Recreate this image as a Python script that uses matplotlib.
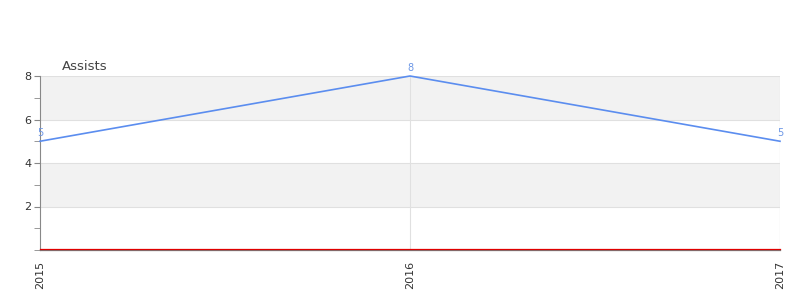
import matplotlib
matplotlib.use("Agg")
import matplotlib.pyplot as plt
from matplotlib.ticker import FixedLocator

years = ["2015", "2016", "2017"]
assists = [5, 8, 5]
baseline = [0, 0, 0]
title = "Assists"

fig = plt.figure(figsize=(8, 3), dpi=100)
ax = fig.add_axes([40/800, 1 - 250/300, 740/800, 174/300])

x = list(range(len(years)))
ax.set_xlim(0, len(years) - 1)
ax.set_ylim(0, 8)

# alternating bands
for lo, hi in [(2, 4), (6, 8)]:
    ax.axhspan(lo, hi, color="#f2f2f2", zorder=0, lw=0)
for yv in [2, 4, 6, 8]:
    ax.axhline(yv, color="#e0e0e0", lw=0.8, zorder=1)
for xv in x[1:]:
    ax.axvline(xv, color="#e0e0e0", lw=0.8, zorder=1)

ax.plot(x, baseline, color="#e00000", lw=0.9, zorder=3, clip_on=False,
        transform=ax.transData + matplotlib.transforms.ScaledTranslation(0, 1/100, fig.dpi_scale_trans))
ax.plot(x, assists, color="#5b8def", lw=1.2, zorder=4, clip_on=False)
for xi, v in zip(x, assists):
    ax.annotate(str(v), (xi, v), xytext=(0, 2.5), textcoords="offset points",
                ha="center", va="bottom", fontsize=7, color="#6b96e6")

ax.set_xticks(x)
ax.set_xticklabels(years, rotation=90, fontsize=8, color="#333333")
ax.set_yticks([2, 4, 6, 8])
ax.set_yticklabels(["2", "4", "6", "8"], fontsize=8, color="#333333")
ax.yaxis.set_minor_locator(FixedLocator([0, 1, 3, 5, 7]))
ax.tick_params(axis="y", which="major", length=4, color="#888888", pad=2)
ax.tick_params(axis="y", which="minor", length=4, color="#888888")
ax.tick_params(axis="x", length=0, pad=8)

for s in ["top", "right"]:
    ax.spines[s].set_visible(False)
ax.spines["left"].set_color("#888888")
ax.spines["left"].set_linewidth(0.8)
ax.spines["bottom"].set_color("#777777")
ax.spines["bottom"].set_linewidth(0.9)
ax.axvline(x[-1], color="#e0e0e0", lw=0.8, zorder=1)

fig.text(62/800, 1 - 66/300, title, fontsize=9.5, color="#444444", va="center", ha="left")

fig.savefig("out.png", dpi=100)
